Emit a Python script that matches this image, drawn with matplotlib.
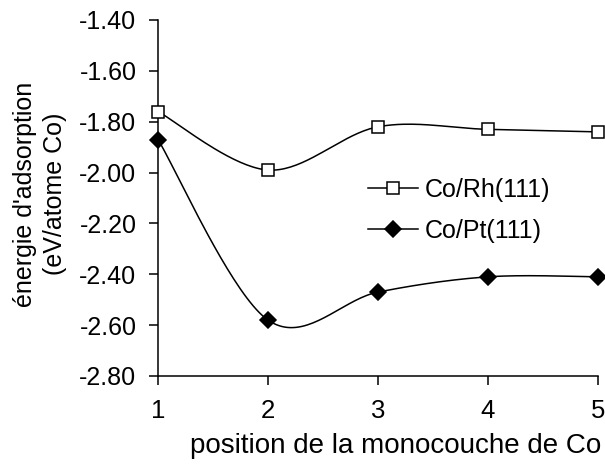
import numpy as np
import matplotlib
matplotlib.use("Agg")
import matplotlib.pyplot as plt

plt.rcParams['font.family'] = ['Liberation Sans', 'DejaVu Sans']

# Données : énergie d'adsorption selon la position de la monocouche de Co
positions = [1, 2, 3, 4, 5]
e_rh = [-1.76, -1.99, -1.82, -1.83, -1.84]
e_pt = [-1.87, -2.58, -2.47, -2.41, -2.41]
yticks = [-2.80, -2.60, -2.40, -2.20, -2.00, -1.80, -1.60, -1.40]


# Lissage type tableur : courbes de Bézier (Catmull-Rom) entre les points
def smooth(x, y, n=40):
    p = np.column_stack([x, y]).astype(float)
    p_ext = np.vstack([p[0], p, p[-1]])
    xs, ys = [], []
    for i in range(len(p) - 1):
        p0, p1, p2, p3 = p_ext[i], p_ext[i + 1], p_ext[i + 2], p_ext[i + 3]
        c1 = p1 + (p2 - p0) / 6
        c2 = p2 - (p3 - p1) / 6
        t = np.linspace(0, 1, n)[:, None]
        b = (1 - t) ** 3 * p1 + 3 * (1 - t) ** 2 * t * c1 + 3 * (1 - t) * t ** 2 * c2 + t ** 3 * p2
        xs.extend(b[:, 0])
        ys.extend(b[:, 1])
    return xs, ys


W, H = 605, 466
fig = plt.figure(figsize=(W / 100, H / 100), dpi=100)
ax = fig.add_axes([158 / W, 1 - 376 / H, 440 / W, 356 / H])

styles = [(e_rh, "Co/Rh(111)", "s", 9, "white"), (e_pt, "Co/Pt(111)", "D", 8, "black")]
for y, label, mk, ms, fc in styles:
    sx, sy = smooth(positions, y)
    ax.plot(sx, sy, color="black", lw=1.1, zorder=2)
    ax.plot(positions, y, linestyle="none", marker=mk, markersize=ms, clip_on=False,
            markerfacecolor=fc, markeredgecolor="black", markeredgewidth=1.1, zorder=3)
    ax.plot([], [], color="black", lw=1.1, marker=mk, markersize=ms,
            markerfacecolor=fc, markeredgecolor="black", markeredgewidth=1.1, label=label)

ax.set_xlim(1, 5)
ax.set_ylim(-2.80, -1.40)
ax.set_xticks(positions)
ax.set_yticks(yticks)
ax.set_yticklabels(["%.2f" % v for v in yticks])
for s in ["top", "right"]:
    ax.spines[s].set_visible(False)
for s in ["left", "bottom"]:
    ax.spines[s].set_linewidth(1.1)
ax.tick_params(axis="both", direction="out", length=6.5, width=1.1)
ax.tick_params(axis="x", pad=10, labelsize=18.5)
ax.tick_params(axis="y", pad=9, labelsize=18)

ax.set_xlabel("position de la monocouche de Co", fontsize=20, va="baseline")
ax.xaxis.set_label_coords(396 / W, 1 - 453 / H, transform=fig.transFigure)
ax.set_ylabel("énergie d'adsorption\n(eV/atome Co)", fontsize=18, linespacing=1.35, va="center")
ax.yaxis.set_label_coords(40 / W, 1 - 194 / H, transform=fig.transFigure)

ax.legend(loc="upper left", bbox_to_anchor=(368 / W, 1 - 178 / H), bbox_transform=fig.transFigure,
          frameon=False, fontsize=18, handlelength=2.0, handletextpad=0.28, labelspacing=0.68,
          borderaxespad=0, borderpad=0)

fig.savefig("out.png", dpi=100)
